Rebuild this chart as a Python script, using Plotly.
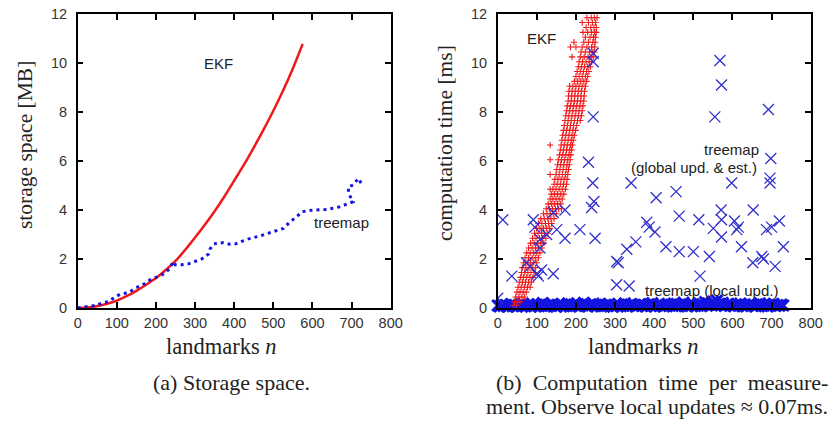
import plotly.graph_objects as go

# ---------------- data ----------------
# (a) storage space [MB]
ekf_store_n = [0, 25, 50, 75, 100, 125, 150, 175, 200, 225, 250, 275, 300, 325, 350,
               375, 400, 425, 450, 475, 500, 525, 550, 575]
ekf_store_mb = [0.0, 0.02, 0.08, 0.17, 0.30, 0.48, 0.70, 0.95, 1.22, 1.55, 1.92, 2.38,
                2.88, 3.40, 3.95, 4.55, 5.20, 5.85, 6.55, 7.28, 8.05, 8.88, 9.78, 10.78]

tree_store_n = [0, 27, 44, 61, 78, 95, 108, 121, 134, 146, 159, 172, 185, 198, 210, 223,
                236, 244, 249, 266, 283, 300, 317, 334, 338, 347, 360, 372, 389, 402,
                432, 466, 500, 526, 543, 560, 573, 602, 636, 670, 704, 692, 692, 704,
                717, 726]
tree_store_mb = [0.0, 0.06, 0.10, 0.19, 0.26, 0.44, 0.56, 0.60, 0.67, 0.80, 0.90, 1.00,
                 1.15, 1.22, 1.31, 1.42, 1.63, 1.90, 1.77, 1.77, 1.80, 1.90, 2.00, 2.20,
                 2.40, 2.60, 2.67, 2.66, 2.60, 2.61, 2.80, 2.94, 3.12, 3.25, 3.52, 3.73,
                 3.93, 4.00, 4.02, 4.13, 4.34, 4.68, 4.95, 5.02, 5.29, 5.06]

# (b) computation time [ms] -- EKF cloud, read row by row (ms level, landmark counts)
ekf_rows = [
    (0.10, [40, 47]), (0.25, [43, 50, 57]), (0.45, [46, 54, 62, 69]),
    (0.65, [49, 57, 65, 73]), (0.85, [52, 60, 68, 76, 83]), (1.05, [55, 63, 71, 79, 86]),
    (1.25, [58, 66, 74, 82, 90]), (1.45, [61, 69, 77, 85, 93]), (1.65, [63, 72, 80, 88, 97]),
    (1.85, [66, 75, 84, 92, 100]), (2.05, [70, 79, 88, 96, 104]),
    (2.25, [74, 83, 92, 100, 108]), (2.45, [79, 88, 97, 105, 113]),
    (2.65, [84, 93, 102, 110, 118]), (2.85, [89, 98, 107, 115, 123]),
    (3.05, [94, 103, 112, 120, 128]), (3.25, [99, 108, 117, 125, 133]),
    (3.45, [104, 113, 122, 130, 138]), (3.65, [110, 119, 128, 136, 144]),
    (3.85, [117, 126, 134, 142, 150]), (4.05, [124, 132, 140, 148, 156, 163]),
    (4.25, [129, 137, 145, 153, 161]), (4.45, [134, 141, 149, 157, 165]),
    (4.65, [137, 145, 153, 161, 169]), (4.85, [134, 141, 149, 157, 165, 173]),
    (5.05, [144, 152, 160, 168, 176]), (5.25, [146, 154, 162, 170, 177]),
    (5.45, [134, 149, 157, 165, 173, 179]), (5.65, [151, 159, 167, 175, 181]),
    (5.85, [153, 161, 169, 177, 183]), (6.05, [134, 155, 163, 171, 179, 185]),
    (6.25, [158, 166, 174, 182, 187]), (6.45, [160, 168, 176, 184, 189]),
    (6.65, [134, 162, 170, 178, 186, 191]), (6.85, [164, 172, 180, 188, 193]),
    (7.05, [166, 174, 182, 190, 196]), (7.25, [168, 176, 184, 192, 199]),
    (7.45, [170, 178, 186, 194, 202]), (7.65, [172, 180, 188, 196, 204, 211]),
    (7.85, [174, 182, 190, 198, 206, 214]), (8.05, [176, 184, 192, 200, 208, 216]),
    (8.25, [178, 186, 194, 202, 210, 218]), (8.45, [180, 188, 196, 204, 212, 220]),
    (8.65, [181, 189, 197, 205, 213, 221]), (8.85, [182, 190, 198, 206, 214, 222]),
    (9.05, [184, 192, 200, 208, 216, 224]), (9.25, [196, 204, 212, 220, 227]),
    (9.45, [200, 208, 216, 224, 230]), (9.65, [203, 211, 219, 227, 233]),
    (9.85, [206, 214, 222, 230, 237]), (10.05, [208, 217, 226, 234, 240]),
    (10.25, [190, 211, 221, 231, 239, 244]), (10.45, [213, 224, 235, 243, 247]),
    (10.65, [186, 200, 216, 228, 240, 248]), (10.85, [195, 220, 232, 243, 249]),
    (11.05, [224, 236, 245, 250]), (11.25, [218, 230, 240, 248, 252]),
    (11.45, [226, 238, 246, 252]), (11.65, [216, 232, 242, 250]),
    (11.85, [228, 239, 247, 254]),
]
ekf_n = [n for _, ns in ekf_rows for n in ns]
ekf_ms = [v for v, ns in ekf_rows for _ in ns]

global_n = [13, 0, 36, 74, 83, 91, 95, 100, 104, 108, 108, 112, 125, 142, 142, 151,
            172, 172, 210, 232, 240, 243, 244, 244, 244, 246, 249, 304, 308, 304, 336,
            330, 353, 341, 381, 387, 402, 405, 430, 456, 464, 464, 500, 517, 514, 541,
            551, 555, 568, 572, 571, 572, 572, 598, 605, 611, 615, 623, 652, 653, 675,
            679, 687, 692, 696, 696, 698, 700, 709, 720, 730]
global_ms = [3.6, 0.4, 1.3, 1.85, 1.7, 3.6, 3.3, 1.4, 1.3, 2.8, 2.45, 1.55, 3.0, 3.9,
             1.4, 3.2, 4.0, 2.85, 3.2, 5.95, 4.1, 5.1, 10.4, 10.05, 7.8, 4.35, 2.85,
             1.9, 1.85, 0.95, 0.9, 2.4, 2.7, 5.1, 3.5, 3.3, 3.1, 4.5, 2.5, 4.75, 3.75,
             2.3, 2.3, 1.3, 3.6, 2.1, 3.25, 7.8, 10.1, 9.1, 4.0, 3.6, 2.9, 5.1, 3.55,
             3.2, 3.3, 2.5, 1.85, 4.0, 2.1, 2.0, 3.2, 8.1, 5.1, 5.3, 6.1, 3.3, 1.7,
             3.55, 2.5]

local_n = list(range(0, 735, 5))
local_ms = [
    0.10, 0.06, 0.14, 0.08, 0.12, 0.05, 0.09, 0.16, 0.07, 0.11,
    0.06, 0.13, 0.09, 0.18, 0.07, 0.10, 0.15, 0.05, 0.12, 0.08,
    0.14, 0.07, 0.11, 0.20, 0.06, 0.09, 0.13, 0.08, 0.17, 0.10,
    0.05, 0.12, 0.09, 0.15, 0.07, 0.11, 0.19, 0.06, 0.10, 0.14,
    0.08, 0.16, 0.07, 0.12, 0.21, 0.09, 0.06, 0.13, 0.10, 0.18,
    0.07, 0.11, 0.15, 0.06, 0.09, 0.13, 0.08, 0.17, 0.10, 0.05,
    0.12, 0.08, 0.14, 0.07, 0.10, 0.19, 0.06, 0.11, 0.15, 0.09,
    0.13, 0.07, 0.10, 0.16, 0.08, 0.12, 0.06, 0.14, 0.09, 0.20,
    0.07, 0.11, 0.15, 0.08, 0.13, 0.06, 0.10, 0.17, 0.09, 0.12,
    0.18, 0.07, 0.11, 0.14, 0.08, 0.22, 0.10, 0.06, 0.13, 0.09,
    0.15, 0.08, 0.12, 0.19, 0.07, 0.11, 0.24, 0.09, 0.14, 0.18,
    0.26, 0.12, 0.30, 0.16, 0.10, 0.21, 0.08, 0.13, 0.17, 0.09,
    0.12, 0.07, 0.15, 0.10, 0.18, 0.08, 0.13, 0.06, 0.11, 0.16,
    0.09, 0.14, 0.07, 0.12, 0.19, 0.08, 0.10, 0.15, 0.06, 0.13,
    0.11, 0.17, 0.08, 0.12, 0.09, 0.14, 0.10,
]

x_ticks = [0, 100, 200, 300, 400, 500, 600, 700, 800]
y_ticks = [0, 2, 4, 6, 8, 10, 12]

# ---------------- styling ----------------
RED = "#f01818"
BLUE = "#1414e0"
XBLUE = "#3030cc"
SANS = "Liberation Sans, Arial, sans-serif"
SERIF = "Liberation Serif, DejaVu Serif, serif"
W, H = 839, 424

fig = go.Figure()

fig.add_trace(go.Scatter(x=ekf_store_n, y=ekf_store_mb, mode="lines",
                         line=dict(color=RED, width=2.5, shape="spline"),
                         xaxis="x", yaxis="y", showlegend=False))
fig.add_trace(go.Scatter(x=tree_store_n, y=tree_store_mb, mode="lines",
                         line=dict(color=BLUE, width=3, dash="3px,4px"),
                         xaxis="x", yaxis="y", showlegend=False))

fig.add_trace(go.Scatter(x=local_n, y=local_ms, mode="markers",
                         marker=dict(symbol="x-thin", size=11, line=dict(color=BLUE, width=3)),
                         cliponaxis=False, xaxis="x2", yaxis="y2", showlegend=False))
fig.add_trace(go.Scatter(x=ekf_n, y=ekf_ms, mode="markers",
                         marker=dict(symbol="cross-thin", size=4.5, line=dict(color=RED, width=1.1)),
                         xaxis="x2", yaxis="y2", showlegend=False))
fig.add_trace(go.Scatter(x=global_n, y=global_ms, mode="markers",
                         marker=dict(symbol="x-thin", size=11, line=dict(color=XBLUE, width=1.3)),
                         xaxis="x2", yaxis="y2", showlegend=False))

ydom = [(H - 308) / H, (H - 14) / H]
common_axis = dict(showline=True, linecolor="black", linewidth=1.5, mirror="ticks",
                   ticks="inside", ticklen=6, tickwidth=1.5, tickcolor="black",
                   showgrid=False, zeroline=False, automargin=False,
                   tickfont=dict(family=SANS, size=14.5, color="#333333"))

fig.update_layout(
    width=W, height=H, margin=dict(l=0, r=0, t=0, b=0),
    paper_bgcolor="white", plot_bgcolor="white",
    xaxis=dict(domain=[77.7 / W, 390.7 / W], range=[0, 800], tickvals=x_ticks,
               anchor="y", ticklabelstandoff=1, **common_axis),
    yaxis=dict(domain=ydom, range=[0, 12], tickvals=y_ticks, anchor="x",
               ticklabelstandoff=6, **common_axis),
    xaxis2=dict(domain=[497.7 / W, 810.7 / W], range=[0, 800], tickvals=x_ticks,
                anchor="y2", ticklabelstandoff=1, **common_axis),
    yaxis2=dict(domain=ydom, range=[0, 12], tickvals=y_ticks, anchor="x2",
                ticklabelstandoff=6, **common_axis),
)

def ann(text, x, y, xref="paper", yref="paper", size=15, family=SANS, color="#222222",
        xanchor="center", yanchor="middle", angle=0):
    fig.add_annotation(text=text, x=x, y=y, xref=xref, yref=yref, showarrow=False,
                       font=dict(family=family, size=size, color=color),
                       xanchor=xanchor, yanchor=yanchor, textangle=angle)

# in-plot labels
ann("EKF", 361, 10.0, "x", "y")
ann("treemap", 675, 3.48, "x", "y")
ann("EKF", 112, 11.0, "x2", "y2")
ann("treemap", 598, 6.49, "x2", "y2")
ann("(global upd. &amp; est.)", 502, 5.73, "x2", "y2")
ann("treemap (local upd.)", 546, 0.71, "x2", "y2")

# axis titles
ann("storage space [MB]", 25 / W, 1 - 145 / H, size=21.5, family=SERIF, angle=-90)
ann("computation time [ms]", 445 / W, 1 - 143 / H, size=21.5, family=SERIF, angle=-90)
ann("landmarks <i>n</i>", 221 / W, 1 - 346 / H, size=22.5, family=SERIF)
ann("landmarks <i>n</i>", 643 / W, 1 - 346 / H, size=22.5, family=SERIF)

# captions
ann("(a) Storage space.", 231 / W, 1 - 382 / H, size=22, family=SERIF)
ann("(b)\u00a0 Computation\u00a0 time\u00a0 per\u00a0 measure-", 830 / W, 1 - 382 / H,
    size=22, family=SERIF, xanchor="right")
ann("ment. Observe local updates \u2248 0.07ms.", 830 / W, 1 - 406 / H,
    size=22, family=SERIF, xanchor="right")

# the page body has a default margin; remove it so the figure fills the window
fig.write_html("out.html", config={"displayModeBar": False},
               post_script="document.body.style.margin='0';")
